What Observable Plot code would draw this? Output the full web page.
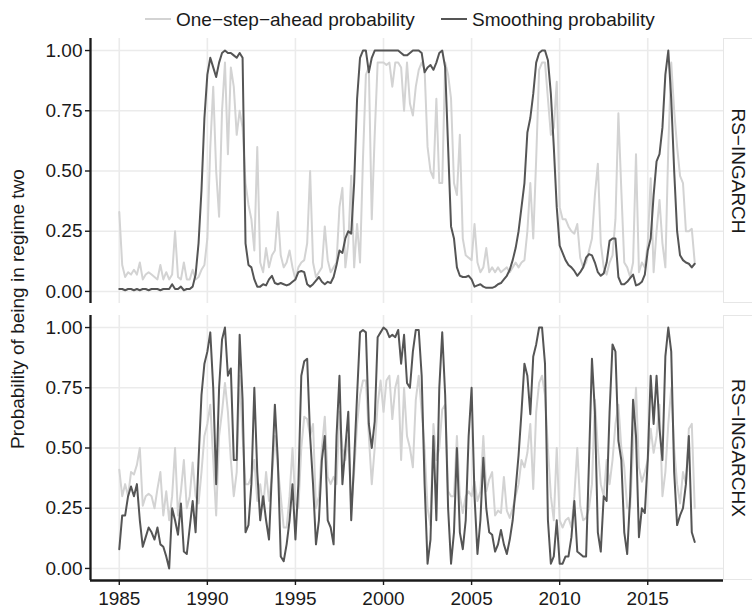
<!DOCTYPE html>
<html>
<head>
<meta charset="utf-8">
<script src="https://cdn.jsdelivr.net/npm/d3@7"></script>
<script src="https://cdn.jsdelivr.net/npm/@observablehq/plot@0.6"></script>
<style>
  html, body { margin: 0; padding: 0; background: #fff; }
  body { font-family: "Liberation Sans", Arial, Helvetica, sans-serif; color: #1a1a1a; width: 752px; }
  #legend { position: relative; height: 35px; }
  #legend .item { position: absolute; top: 9.5px; height: 19px; display: flex; align-items: center;
    font-size: 19px; line-height: 19px; white-space: nowrap; }
  #legend .sw { display: inline-block; width: 26px; height: 2.5px; margin-right: 5px; }
  #chart svg { display: block; }
</style>
</head>
<body>
<div id="legend"></div>
<div id="chart"></div>
<script>
// ---------- data (bi-monthly readings, starting Jan 1985) ----------
const models = ["RS\u2212INGARCH", "RS\u2212INGARCHX"];
const seriesNames = ["One\u2212step\u2212ahead probability", "Smoothing probability"];
const seriesColors = ["#d3d3d3", "#555555"];
const startYear = 1985;
const stepsPerYear = 6;
const xTicks = [1985, 1990, 1995, 2000, 2005, 2010, 2015];
const yTicks = [0, 0.25, 0.5, 0.75, 1];
const yTitle = "Probability of being in regime two";

// RS-INGARCH, one-step-ahead
const ingarchOneStep = [
  0.33, 0.11, 0.06, 0.08, 0.07, 0.09,
  0.07, 0.12, 0.05, 0.07, 0.08, 0.07,
  0.06, 0.05, 0.11, 0.05, 0.08, 0.05,
  0.07, 0.25, 0.06, 0.05, 0.12, 0.05,
  0.05, 0.09, 0.05, 0.06, 0.09, 0.11,
  0.22, 0.60, 0.85, 0.50, 0.31, 0.75,
  0.95, 0.57, 0.93, 0.85, 0.65, 0.75,
  0.68, 0.45, 0.36, 0.30, 0.17, 0.60,
  0.12, 0.08, 0.18, 0.10, 0.15, 0.17,
  0.33, 0.15, 0.10, 0.12, 0.17, 0.10,
  0.05, 0.10, 0.12, 0.13, 0.20, 0.50,
  0.12, 0.06, 0.08, 0.10, 0.27, 0.13,
  0.08, 0.10, 0.12, 0.35, 0.43, 0.10,
  0.20, 0.48, 0.10, 0.28, 0.12, 0.55,
  0.90, 0.93, 0.30, 0.65, 0.95, 0.95,
  0.95, 0.94, 0.95, 0.85, 0.95, 0.95,
  0.93, 0.75, 0.95, 0.78, 0.73, 0.85,
  0.92, 0.95, 0.92, 0.60, 0.50, 0.47,
  0.80, 0.45, 0.45, 0.95, 0.90, 0.80,
  0.45, 0.40, 0.65, 0.22, 0.15, 0.14,
  0.13, 0.28, 0.12, 0.08, 0.10, 0.18,
  0.08, 0.10, 0.08, 0.10, 0.08, 0.09,
  0.10, 0.08, 0.10, 0.12, 0.10, 0.12,
  0.13, 0.25, 0.45, 0.22, 0.55, 0.92,
  0.95, 0.95, 0.80, 0.65, 0.68, 0.87,
  0.35, 0.30, 0.30, 0.27, 0.25, 0.24,
  0.28, 0.14, 0.10, 0.12, 0.17, 0.22,
  0.40, 0.53, 0.20, 0.10, 0.07, 0.12,
  0.15, 0.30, 0.74, 0.42, 0.12, 0.10,
  0.06, 0.12, 0.57, 0.08, 0.12, 0.10,
  0.20, 0.47, 0.08, 0.25, 0.38, 0.20,
  0.10, 0.60, 0.95, 0.75, 0.60, 0.48,
  0.45, 0.25, 0.25, 0.26, 0.12
];

// RS-INGARCH, smoothing
const ingarchSmooth = [
  0.010, 0.010, 0.005, 0.010, 0.010, 0.005,
  0.010, 0.005, 0.010, 0.010, 0.005, 0.010,
  0.010, 0.010, 0.005, 0.010, 0.010, 0.010,
  0.030, 0.010, 0.010, 0.020, 0.005, 0.010,
  0.010, 0.020, 0.070, 0.200, 0.420, 0.720,
  0.900, 0.970, 0.930, 0.890, 0.950, 0.990,
  1.000, 0.990, 0.990, 0.980, 0.970, 0.990,
  0.970, 0.200, 0.110, 0.100, 0.050, 0.020,
  0.020, 0.030, 0.025, 0.050, 0.065, 0.035,
  0.030, 0.035, 0.030, 0.025, 0.030, 0.040,
  0.050, 0.080, 0.085, 0.080, 0.030, 0.020,
  0.030, 0.045, 0.060, 0.040, 0.030, 0.040,
  0.035, 0.060, 0.110, 0.170, 0.160, 0.220,
  0.250, 0.240, 0.450, 0.800, 0.970, 1.000,
  1.000, 0.910, 0.970, 1.000, 1.000, 1.000,
  1.000, 1.000, 1.000, 1.000, 1.000, 1.000,
  0.990, 0.980, 0.980, 0.990, 1.000, 1.000,
  1.000, 0.990, 0.910, 0.930, 0.940, 0.920,
  0.950, 0.990, 1.000, 0.930, 0.600, 0.270,
  0.220, 0.100, 0.065, 0.060, 0.060, 0.065,
  0.050, 0.020, 0.025, 0.030, 0.020, 0.015,
  0.015, 0.015, 0.020, 0.030, 0.035, 0.050,
  0.065, 0.090, 0.130, 0.180, 0.250, 0.350,
  0.450, 0.660, 0.720, 0.820, 0.950, 0.990,
  1.000, 1.000, 0.960, 0.820, 0.600, 0.350,
  0.190, 0.160, 0.130, 0.110, 0.100, 0.085,
  0.065, 0.080, 0.100, 0.140, 0.155, 0.150,
  0.120, 0.080, 0.065, 0.075, 0.120, 0.210,
  0.220, 0.220, 0.060, 0.030, 0.030, 0.040,
  0.055, 0.070, 0.025, 0.030, 0.040, 0.070,
  0.170, 0.220, 0.400, 0.540, 0.570, 0.680,
  0.900, 1.000, 0.800, 0.500, 0.250, 0.150,
  0.130, 0.120, 0.115, 0.100, 0.115
];

// RS-INGARCHX, one-step-ahead
const ingarchxOneStep = [
  0.41, 0.30, 0.35, 0.30, 0.40, 0.39,
  0.43, 0.50, 0.26, 0.30, 0.31, 0.30,
  0.25, 0.33, 0.40, 0.22, 0.32, 0.20,
  0.30, 0.50, 0.22, 0.32, 0.45, 0.25,
  0.30, 0.44, 0.30, 0.27, 0.40, 0.55,
  0.60, 0.68, 0.45, 0.22, 0.55, 0.65,
  0.77, 0.65, 0.45, 0.30, 0.40, 0.80,
  0.55, 0.35, 0.35, 0.38, 0.45, 0.28,
  0.35, 0.25, 0.40, 0.28, 0.38, 0.55,
  0.42, 0.30, 0.17, 0.17, 0.30, 0.50,
  0.27, 0.25, 0.50, 0.63, 0.62, 0.55,
  0.60, 0.25, 0.30, 0.50, 0.63, 0.38,
  0.35, 0.38, 0.35, 0.65, 0.50, 0.45,
  0.55, 0.25, 0.40, 0.60, 0.72, 0.78,
  0.78, 0.55, 0.35, 0.50, 0.68, 0.78,
  0.65, 0.78, 0.80, 0.62, 0.75, 0.80,
  0.45, 0.75, 0.55, 0.50, 0.42, 0.70,
  0.80, 0.65, 0.50, 0.25, 0.18, 0.60,
  0.45, 0.50, 0.66, 0.68, 0.32, 0.30,
  0.30, 0.55, 0.30, 0.23, 0.30, 0.32,
  0.30, 0.36, 0.28, 0.32, 0.55, 0.32,
  0.37, 0.40, 0.22, 0.24, 0.23, 0.38,
  0.24, 0.21, 0.25, 0.30, 0.35, 0.45,
  0.42, 0.48, 0.60, 0.33, 0.65, 0.77,
  0.80, 0.72, 0.50, 0.30, 0.20, 0.50,
  0.20, 0.17, 0.20, 0.21, 0.17, 0.30,
  0.50, 0.26, 0.20, 0.21, 0.25, 0.35,
  0.70, 0.50, 0.35, 0.30, 0.45, 0.35,
  0.45, 0.60, 0.68, 0.50, 0.42, 0.25,
  0.25, 0.50, 0.75, 0.42, 0.36, 0.40,
  0.45, 0.58, 0.48, 0.55, 0.68, 0.30,
  0.40, 0.60, 0.75, 0.50, 0.35, 0.27,
  0.40, 0.35, 0.58, 0.60, 0.25
];

// RS-INGARCHX, smoothing
const ingarchxSmooth = [
  0.08, 0.22, 0.22, 0.30, 0.34, 0.30,
  0.35, 0.20, 0.09, 0.13, 0.17, 0.15,
  0.12, 0.17, 0.10, 0.09, 0.05, 0.00,
  0.25, 0.20, 0.14, 0.27, 0.07, 0.06,
  0.17, 0.28, 0.15, 0.45, 0.72, 0.85,
  0.90, 0.98, 0.75, 0.35, 0.75, 0.95,
  1.00, 0.80, 0.83, 0.45, 0.45, 0.97,
  0.70, 0.15, 0.18, 0.35, 0.75, 0.40,
  0.20, 0.30, 0.20, 0.12, 0.40, 0.68,
  0.45, 0.05, 0.03, 0.10, 0.20, 0.35,
  0.12, 0.35, 0.80, 0.86, 0.87, 0.55,
  0.35, 0.10, 0.20, 0.45, 0.55, 0.20,
  0.17, 0.10, 0.55, 0.80, 0.35, 0.50,
  0.65, 0.20, 0.45, 0.72, 0.98, 0.99,
  0.98, 0.60, 0.50, 0.61, 0.96, 0.98,
  1.00, 0.99, 0.96, 0.97, 0.96, 0.99,
  0.85, 0.97, 0.77, 0.75, 0.90, 0.99,
  0.99, 0.80, 0.35, 0.02, 0.12, 0.55,
  0.20, 0.75, 0.98, 0.72, 0.25, 0.02,
  0.15, 0.50, 0.15, 0.08, 0.20, 0.55,
  0.75, 0.30, 0.06, 0.20, 0.46, 0.25,
  0.15, 0.14, 0.07, 0.10, 0.16, 0.10,
  0.06, 0.12, 0.20, 0.33, 0.47, 0.65,
  0.85, 0.80, 0.64, 0.88, 0.93, 1.00,
  1.00, 0.85, 0.20, 0.02, 0.05, 0.20,
  0.02, 0.02, 0.05, 0.05, 0.13, 0.28,
  0.07, 0.06, 0.05, 0.05, 0.45, 0.87,
  0.65, 0.15, 0.07, 0.30, 0.28, 0.65,
  0.93, 0.90, 0.53, 0.45, 0.15, 0.06,
  0.30, 0.70, 0.55, 0.13, 0.25, 0.23,
  0.45, 0.80, 0.60, 0.80, 0.58, 0.45,
  0.88, 1.00, 0.90, 0.40, 0.18, 0.22,
  0.25, 0.35, 0.55, 0.15, 0.11
];

// ---------- build table ----------
function toRows(model, series, values) {
  return values.map((v, i) => ({ model, series, t: startYear + i / stepsPerYear, v }));
}
const oneStepRows = [
  ...toRows(models[0], seriesNames[0], ingarchOneStep),
  ...toRows(models[1], seriesNames[0], ingarchxOneStep)
];
const smoothRows = [
  ...toRows(models[0], seriesNames[1], ingarchSmooth),
  ...toRows(models[1], seriesNames[1], ingarchxSmooth)
];
const allRows = oneStepRows.concat(smoothRows);

// ggplot-like 5% expansion
const tExt = d3.extent(allRows, d => d.t);
const tPad = (tExt[1] - tExt[0]) * 0.05;
const xMin = tExt[0] - tPad, xMax = tExt[1] + tPad;
const yMin = -0.05, yMax = 1.05;

// ---------- legend ----------
const legend = d3.select("#legend");
const legendLeft = [145, 441];
seriesNames.forEach((name, i) => {
  const item = legend.append("div").attr("class", "item").style("left", legendLeft[i] + "px");
  item.append("span").attr("class", "sw").style("background", seriesColors[i]);
  item.append("span").text(name);
});

// ---------- chart ----------
const ink = "#1a1a1a";
const chart = Plot.plot({
  width: 752,
  height: 575,
  marginTop: 3,
  marginBottom: 30,
  marginLeft: 90,
  marginRight: 29,
  style: { fontFamily: "'Liberation Sans', Arial, Helvetica, sans-serif", fontSize: "19px", color: ink, background: "#fff" },
  x: { domain: [xMin, xMax] },
  y: { domain: [yMin, yMax] },
  fy: { domain: models, paddingInner: 12 / 277, paddingOuter: 0, axis: null },
  marks: [
    Plot.gridY(yTicks, { stroke: "#ebebeb", strokeOpacity: 1, strokeWidth: 1.6 }),
    Plot.gridX(xTicks, { stroke: "#ebebeb", strokeOpacity: 1, strokeWidth: 1.6 }),
    Plot.line(oneStepRows, { x: "t", y: "v", fy: "model", stroke: seriesColors[0], strokeWidth: 2, strokeLinejoin: "round" }),
    Plot.line(smoothRows, { x: "t", y: "v", fy: "model", stroke: seriesColors[1], strokeWidth: 2, strokeLinejoin: "round" }),
    Plot.ruleX([xMin], { stroke: ink, strokeWidth: 2.3 }),
    Plot.ruleY([{ model: models[1], y: yMin }], { y: "y", fy: "model", stroke: ink, strokeWidth: 2.3 }),
    Plot.axisY(yTicks, { tickFormat: d3.format(".2f"), tickSize: 5, tickPadding: 3, fontSize: 19, label: null, strokeWidth: 1.4 }),
    Plot.axisX(xTicks, { tickFormat: d => String(d), tickSize: 5, tickPadding: 6, fontSize: 19, label: null, strokeWidth: 1.4 }),
    Plot.text(models, { fy: d => d, text: d => d, frameAnchor: "right", dx: 15, rotate: 90, textAnchor: "middle", fontSize: 19, fill: ink })
  ]
});
document.getElementById("chart").appendChild(chart);

// strip boxes and shared y title
const svg = d3.select(chart);
const fyS = chart.scale("fy");
const bw = fyS.bandwidth;
const rightEdge = 752 - 29;
models.forEach(m => {
  const y0 = fyS.apply(m);
  svg.insert("rect", "g")
    .attr("x", rightEdge + 0.5).attr("y", y0 + 0.5)
    .attr("width", 40).attr("height", bw - 1)
    .attr("fill", "#fff").attr("stroke", "#e6e6e6").attr("stroke-width", 1);
});
const midY = (fyS.apply(models[0]) + fyS.apply(models[1]) + bw) / 2;
svg.append("text")
  .attr("transform", `translate(24,${midY}) rotate(-90)`)
  .attr("text-anchor", "middle")
  .attr("font-size", 19)
  .attr("fill", ink)
  .text(yTitle);
</script>
</body>
</html>
